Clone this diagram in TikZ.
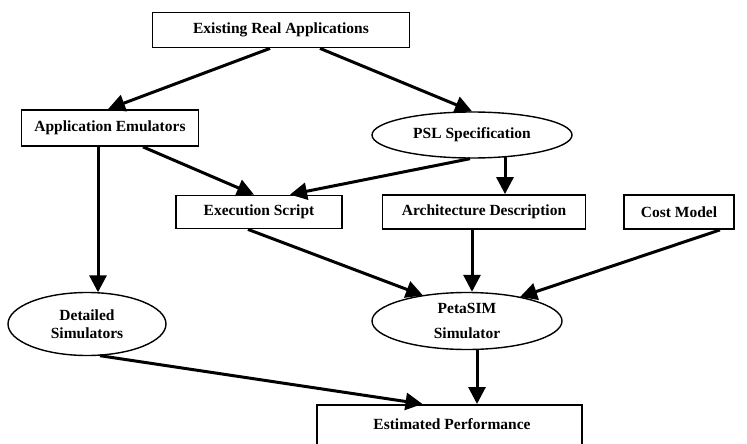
\documentclass[tikz,border=0pt]{standalone}
\usepackage{fontspec}
\setmainfont{Liberation Serif}
\usetikzlibrary{shapes.geometric,arrows.meta,calc}
\tikzset{
  txt/.style={font=\bfseries\fontsize{15.5}{18}\selectfont},
  box/.style={draw=black, line width=1.8pt, rectangle, inner sep=0pt, txt},
  oval/.style={draw=black, line width=1.4pt, ellipse, inner sep=0pt, align=center, txt},
  arr/.style={line width=3pt, -{Triangle[length=17pt,width=17pt]}},
}
\begin{document}
\begin{tikzpicture}[x=1pt,y=-1pt]
\clip (0,0) rectangle (747,444);
\fill[white] (0,0) rectangle (747,444);
\node[box, minimum width=257pt, minimum height=35pt] (era) at (281,30) {Existing Real Applications};
\node[box, minimum width=177pt, minimum height=36pt] (ae) at (110,128) {Application Emulators};
\node[oval, minimum width=200pt, minimum height=46pt] (psl) at (472,135) {PSL Specification};
\node[box, minimum width=166pt, minimum height=33pt] (es) at (259,212) {Execution Script};
\node[box, minimum width=203pt, minimum height=34pt] (ad) at (484,212) {Architecture Description};
\node[box, minimum width=110pt, minimum height=34pt] (cm) at (679,212) {Cost Model};
\node[oval, minimum width=158pt, minimum height=63pt, font=\bfseries\fontsize{15.5}{18}\selectfont] (ds) at (87,324) {Detailed\\Simulators};
\node[oval, minimum width=190pt, minimum height=57pt, font=\bfseries\fontsize{15.5}{25}\selectfont] (ps) at (467,321) {PetaSIM\\Simulator};
\node[box, minimum width=265pt, minimum height=46pt, anchor=north] (ep) at (449.5,404) {};
\node[txt] (eptext) at (452,424) {Estimated Performance};

\draw[arr] ($(era.south)+(-11,0)$) -- ($(ae.north)+(-2,0)$);
\draw[arr] ($(era.south)+(39,0)$) -- (psl.north);
\draw[arr] ($(ae.south)+(33,0)$) -- ($(es.north)+(-5,0)$);
\draw[arr] ($(psl.south)+(-2,0)$) -- ($(es.north)+(31,0)$);
\draw[arr] ($(psl.south)+(33,-1.5)$) -- ($(ad.north)+(21,0)$);
\draw[arr] ($(ae.south)+(-12,0)$) -- ($(ds.north)+(11,0.5)$);
\draw[arr] ($(es.south)+(-11,0)$) -- ($(ps.center)+(-44,-25.5)$);
\draw[arr] ($(ad.south)+(-12,0)$) -- ($(ps.north)+(5,0)$);
\draw[arr] ($(cm.south)+(41,0)$) -- ($(ps.center)+(53,-24)$);
\draw[arr] ($(ds.south)+(13,-0.5)$) -- ($(ep.north)+(-27,0)$);
\draw[arr] ($(ps.south)+(10,0)$) -- ($(ep.north)+(27.5,0)$);
\end{tikzpicture}
\end{document}
